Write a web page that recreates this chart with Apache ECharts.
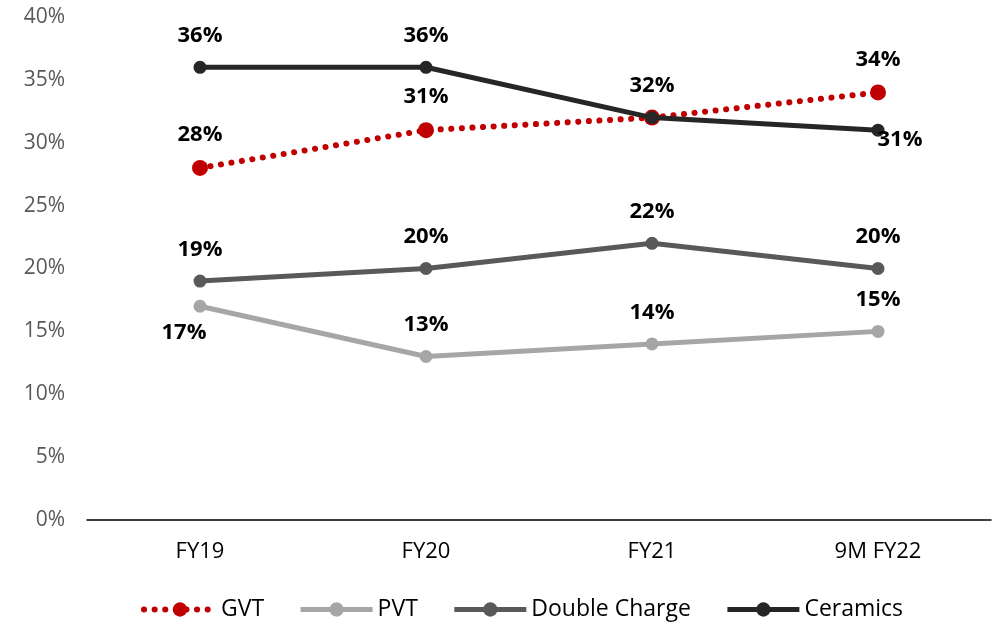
<!DOCTYPE html>
<html>
<head>
<meta charset="utf-8">
<script src="https://cdn.jsdelivr.net/npm/echarts@6/dist/echarts.min.js"></script>
<style>
  html, body { margin: 0; padding: 0; background: #fff; }
  #chart { width: 1000px; height: 627px; }
</style>
</head>
<body>
<div id="chart"></div>
<script>
// Share of revenue by product line, in percent
const categories = ['FY19', 'FY20', 'FY21', '9M FY22'];
const gvt = [28, 31, 32, 34];
const pvt = [17, 13, 14, 15];
const doubleCharge = [19, 20, 22, 20];
const ceramics = [36, 36, 32, 31];
const yTicks = [0, 5, 10, 15, 20, 25, 30, 35, 40];

const FONT = '"Open Sans", "Noto Sans", sans-serif';

const labelBase = {
  show: true,
  position: 'top',
  distance: 14,
  formatter: p => p.value + '%',
  fontFamily: FONT,
  fontWeight: 'bold',
  fontSize: 22,
  color: '#000'
};

// Build point objects, with optional per-point label overrides
function points(values, overrides) {
  return values.map((v, i) => {
    const o = overrides && overrides[i];
    return o ? { value: v, label: o } : v;
  });
}

const chart = echarts.init(document.getElementById('chart'), null, { renderer: 'canvas' });

chart.setOption({
  animation: false,
  grid: { left: 87, right: 9, top: 17, bottom: 107, containLabel: false },
  xAxis: {
    type: 'category',
    data: categories,
    boundaryGap: true,
    axisLine: { show: true, lineStyle: { color: '#000', width: 1.5 } },
    axisTick: { show: false },
    axisLabel: { color: '#000', fontSize: 22, fontFamily: FONT, margin: 21 }
  },
  yAxis: {
    type: 'value',
    min: yTicks[0],
    max: yTicks[yTicks.length - 1],
    interval: yTicks[1] - yTicks[0],
    axisLine: { show: false },
    axisTick: { show: false },
    splitLine: { show: false },
    axisLabel: { color: '#595959', fontSize: 21, fontFamily: FONT, margin: 22, formatter: v => v + '%' }
  },
  legend: {
    bottom: 1,
    left: 136,
    itemWidth: 72,
    itemHeight: 18,
    itemGap: 34,
    lineStyle: { width: 'inherit' },
    textStyle: { color: '#000', fontSize: 23, fontFamily: FONT },
    data: ['GVT', 'PVT', 'Double Charge', 'Ceramics']
  },
  series: [
    {
      name: 'GVT',
      type: 'line',
      data: points(gvt, { 2: { show: false } }),
      symbol: 'circle',
      symbolSize: 16,
      itemStyle: { color: '#c00000' },
      lineStyle: { color: '#c00000', width: 6, type: [0.1, 10.5], cap: 'round' },
      label: labelBase,
      z: 2
    },
    {
      name: 'PVT',
      type: 'line',
      data: points(pvt, { 0: { position: 'bottom', offset: [-16, -5] } }),
      symbol: 'circle',
      symbolSize: 13,
      itemStyle: { color: '#a6a6a6' },
      lineStyle: { color: '#a6a6a6', width: 5 },
      label: labelBase,
      z: 3
    },
    {
      name: 'Double Charge',
      type: 'line',
      data: points(doubleCharge),
      symbol: 'circle',
      symbolSize: 13,
      itemStyle: { color: '#595959' },
      lineStyle: { color: '#595959', width: 5 },
      label: labelBase,
      z: 4
    },
    {
      name: 'Ceramics',
      type: 'line',
      data: points(ceramics, { 3: { position: 'bottom', distance: 0, offset: [22, -8] } }),
      symbol: 'circle',
      symbolSize: 13,
      itemStyle: { color: '#262626' },
      lineStyle: { color: '#262626', width: 5 },
      label: labelBase,
      z: 5
    }
  ]
});
</script>
</body>
</html>
